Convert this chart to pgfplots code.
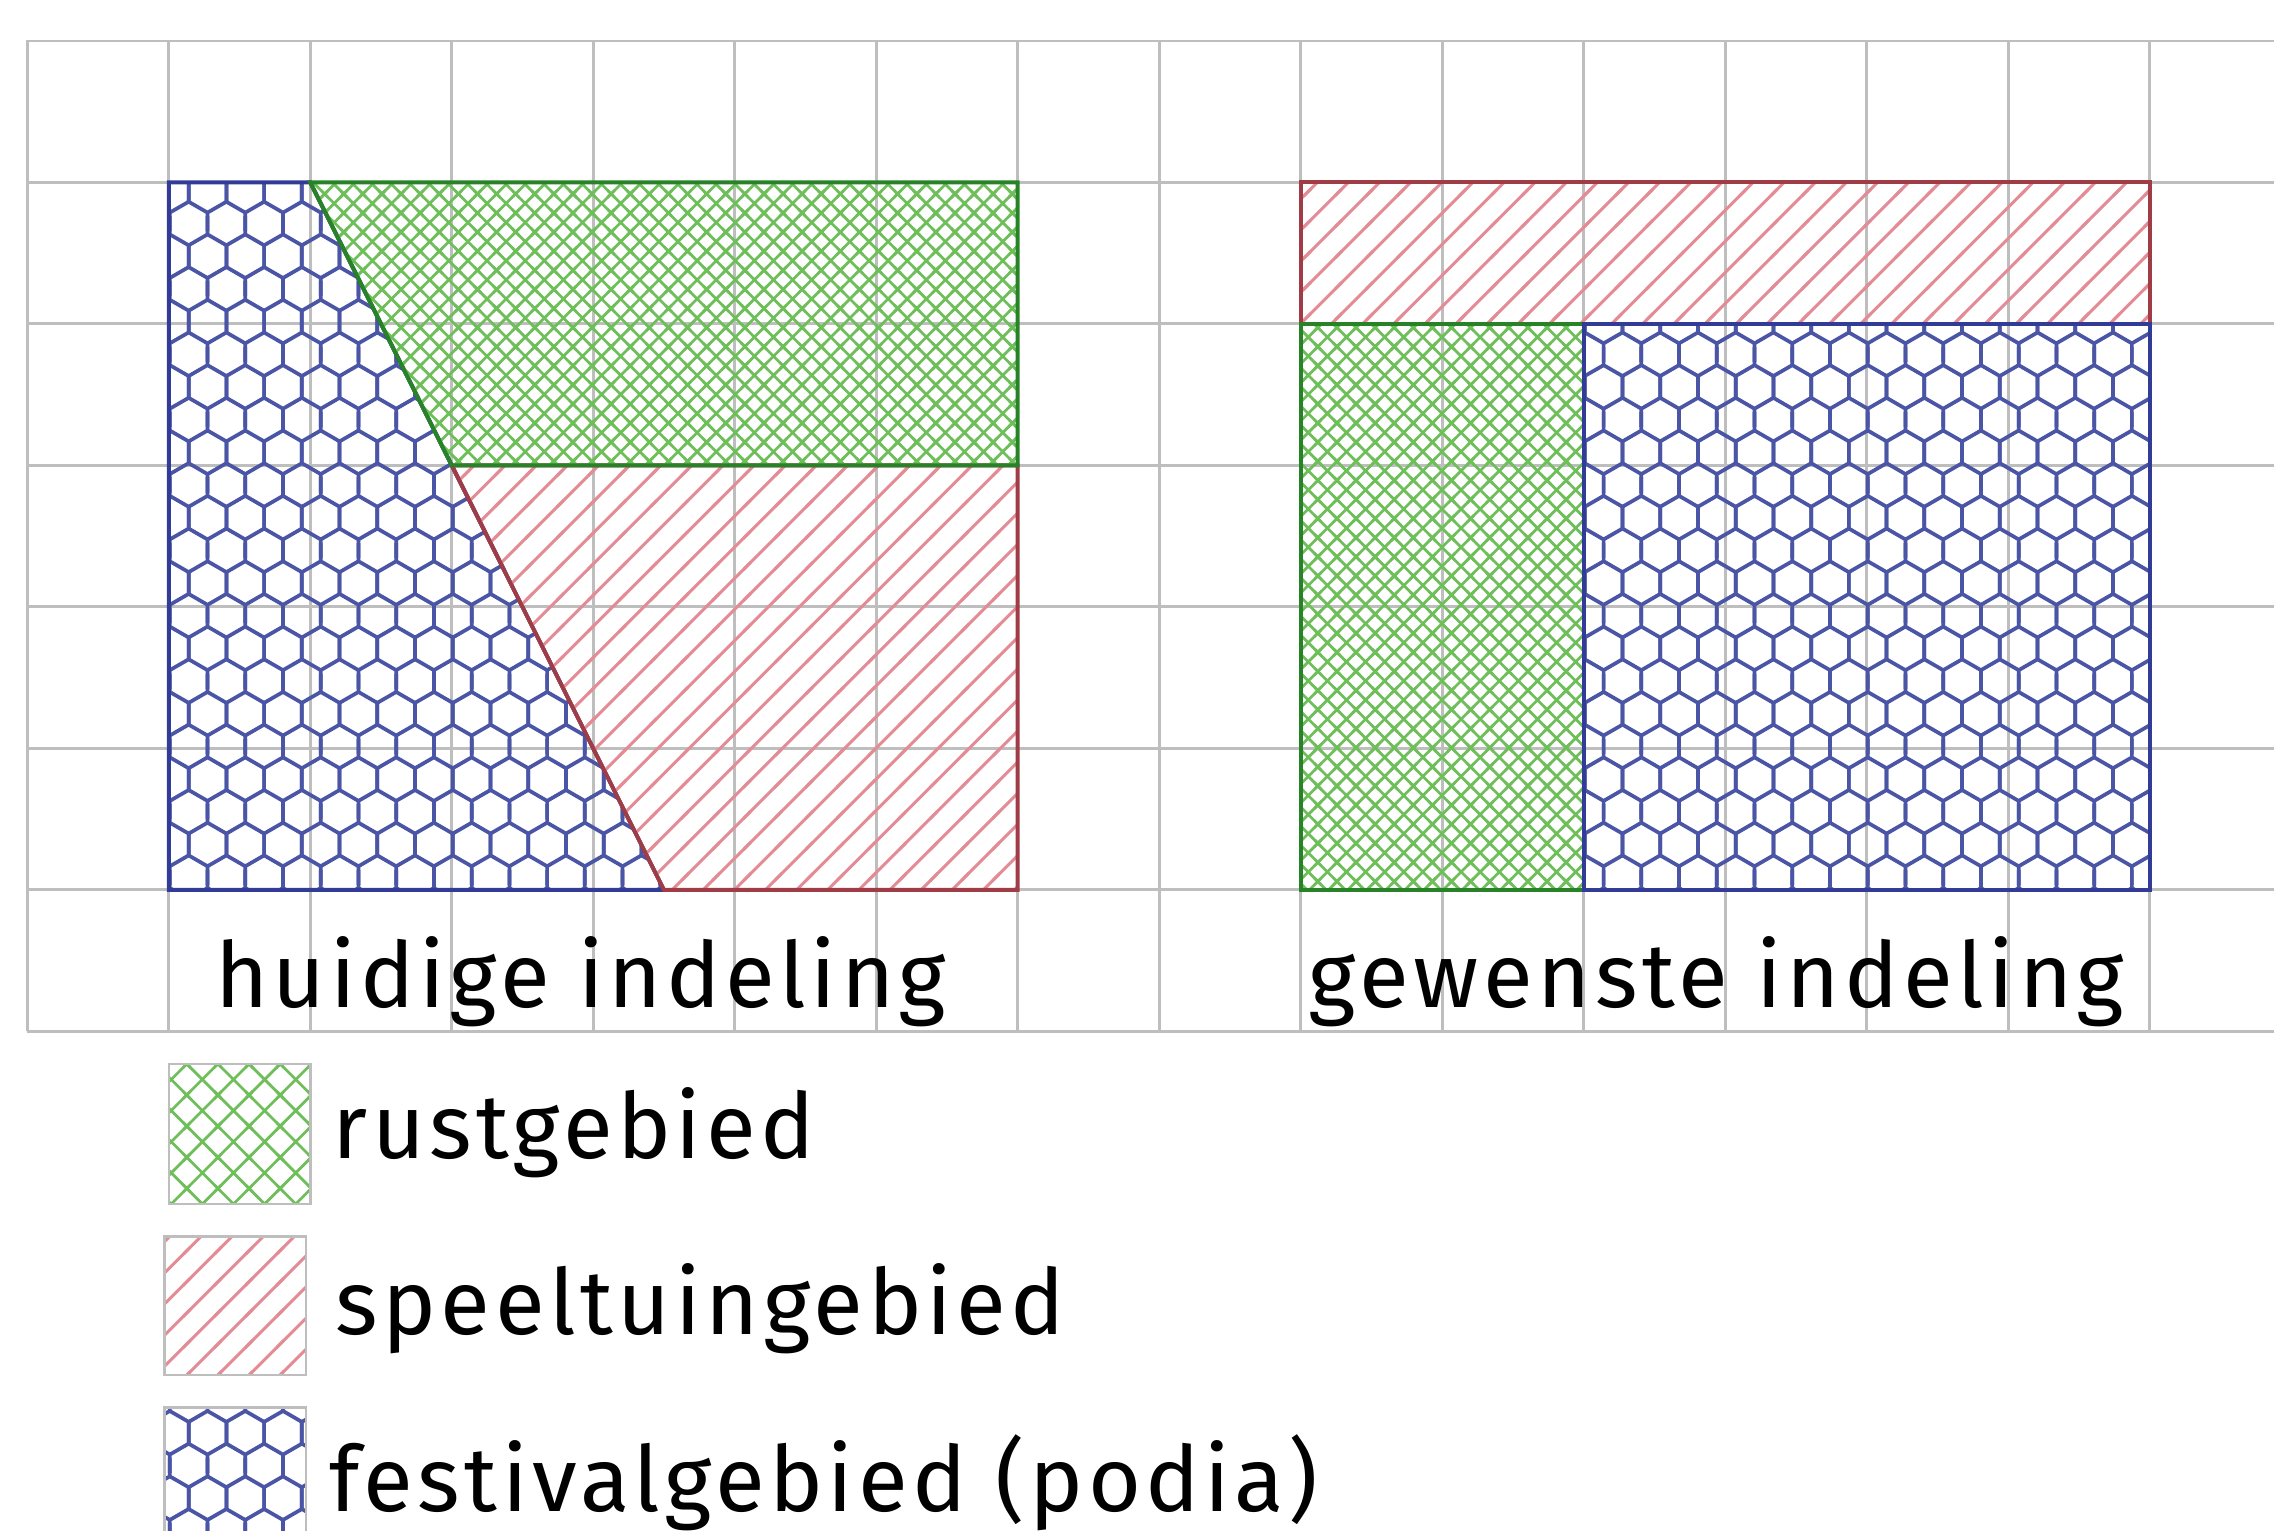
\documentclass[border=0pt]{standalone}
\usepackage{pgfplots}
\pgfplotsset{compat=1.18}
\usetikzlibrary{patterns}
\usepackage{fontspec}
\setmainfont{Fira Sans}[LetterSpace=5]

\definecolor{hexcol}{RGB}{75,85,165}
\definecolor{grpat}{RGB}{110,190,90}
\definecolor{grline}{RGB}{40,130,40}
\definecolor{rdpat}{RGB}{228,140,150}
\definecolor{rdline}{RGB}{160,60,70}
\definecolor{blline}{RGB}{50,60,150}
\definecolor{gridcol}{RGB}{190,190,190}

% hexagon pattern (pointy top), side 0.154cm
\pgfdeclarepatternformonly{hexa}{\pgfpoint{-0.05cm}{-0.05cm}}{\pgfpoint{0.3167cm}{0.512cm}}{\pgfpoint{0.2667cm}{0.462cm}}{%
  \pgfsetlinewidth{0.75pt}%
  \pgfpathmoveto{\pgfpoint{0cm}{0.154cm}}\pgfpathlineto{\pgfpoint{0.13335cm}{0.077cm}}\pgfpathlineto{\pgfpoint{0.2667cm}{0.154cm}}%
  \pgfpathmoveto{\pgfpoint{0cm}{0.154cm}}\pgfpathlineto{\pgfpoint{0cm}{0.308cm}}%
  \pgfpathmoveto{\pgfpoint{0.2667cm}{0.154cm}}\pgfpathlineto{\pgfpoint{0.2667cm}{0.308cm}}%
  \pgfpathmoveto{\pgfpoint{0cm}{0.308cm}}\pgfpathlineto{\pgfpoint{0.13335cm}{0.385cm}}\pgfpathlineto{\pgfpoint{0.2667cm}{0.308cm}}%
  \pgfpathmoveto{\pgfpoint{0.13335cm}{-0.077cm}}\pgfpathlineto{\pgfpoint{0.13335cm}{0.077cm}}%
  \pgfpathmoveto{\pgfpoint{0.13335cm}{0.385cm}}\pgfpathlineto{\pgfpoint{0.13335cm}{0.539cm}}%
  \pgfusepath{stroke}}

% fine crosshatch for the regions
\pgfdeclarepatternformonly{xhatch}{\pgfpoint{-0.03cm}{-0.03cm}}{\pgfpoint{0.165cm}{0.165cm}}{\pgfpoint{0.135cm}{0.135cm}}{%
  \pgfsetlinewidth{0.55pt}%
  \pgfpathmoveto{\pgfpoint{-0.03cm}{-0.03cm}}\pgfpathlineto{\pgfpoint{0.165cm}{0.165cm}}%
  \pgfpathmoveto{\pgfpoint{-0.03cm}{0.165cm}}\pgfpathlineto{\pgfpoint{0.165cm}{-0.03cm}}%
  \pgfusepath{stroke}}

% coarser crosshatch for the legend
\pgfdeclarepatternformonly{xhatchL}{\pgfpoint{-0.03cm}{-0.03cm}}{\pgfpoint{0.25cm}{0.25cm}}{\pgfpoint{0.22cm}{0.22cm}}{%
  \pgfsetlinewidth{0.55pt}%
  \pgfpathmoveto{\pgfpoint{-0.03cm}{-0.03cm}}\pgfpathlineto{\pgfpoint{0.25cm}{0.25cm}}%
  \pgfpathmoveto{\pgfpoint{-0.03cm}{0.25cm}}\pgfpathlineto{\pgfpoint{0.25cm}{-0.03cm}}%
  \pgfusepath{stroke}}

% north east lines
\pgfdeclarepatternformonly{nelines}{\pgfpoint{-0.03cm}{-0.03cm}}{\pgfpoint{0.25cm}{0.25cm}}{\pgfpoint{0.22cm}{0.22cm}}{%
  \pgfsetlinewidth{0.6pt}%
  \pgfpathmoveto{\pgfpoint{-0.03cm}{-0.03cm}}\pgfpathlineto{\pgfpoint{0.25cm}{0.25cm}}%
  \pgfusepath{stroke}}

\begin{document}
\begin{tikzpicture}
\begin{axis}[
  name=ax,
  x=1cm, y=1cm,
  scale only axis,
  hide axis,
  xmin=-0.193, xmax=15.88,
  ymin=-3.53, ymax=7.29,
  clip=true,
]
% grid
\addplot[gridcol, line width=0.6pt] coordinates {
 (0,0) (0,7) (1,7) (1,0) (2,0) (2,7) (3,7) (3,0) (4,0) (4,7) (5,7) (5,0)
 (6,0) (6,7) (7,7) (7,0) (8,0) (8,7) (9,7) (9,0) (10,0) (10,7) (11,7) (11,0)
 (12,0) (12,7) (13,7) (13,0) (14,0) (14,7) (15,7) (15,0) (16.5,0)};
\addplot[gridcol, line width=0.6pt] coordinates {
 (0,0) (16.5,0) (16.5,1) (0,1) (0,2) (16.5,2) (16.5,3) (0,3) (0,4) (16.5,4)
 (16.5,5) (0,5) (0,6) (16.5,6) (16.5,7) (0,7)};

% huidige indeling
\addplot[draw=blline, line width=0.8pt, pattern=hexa, pattern color=hexcol]
  coordinates {(1,1) (1,6) (2,6) (4.5,1)} -- cycle;
\addplot[draw=rdline, line width=0.8pt, pattern=nelines, pattern color=rdpat]
  coordinates {(3,4) (7,4) (7,1) (4.5,1)} -- cycle;
\addplot[draw=grline, line width=0.8pt, pattern=xhatch, pattern color=grpat]
  coordinates {(2,6) (7,6) (7,4) (3,4)} -- cycle;

% gewenste indeling
\addplot[draw=rdline, line width=0.8pt, pattern=nelines, pattern color=rdpat]
  coordinates {(9,5) (9,6) (15,6) (15,5)} -- cycle;
\addplot[draw=grline, line width=0.8pt, pattern=xhatch, pattern color=grpat]
  coordinates {(9,1) (9,5) (11,5) (11,1)} -- cycle;
\addplot[draw=blline, line width=0.8pt, pattern=hexa, pattern color=hexcol]
  coordinates {(11,1) (11,5) (15,5) (15,1)} -- cycle;

% legend boxes
\addplot[draw=gridcol, line width=0.5pt, pattern=xhatchL, pattern color=grpat]
  coordinates {(1,-1.22) (1,-0.23) (2,-0.23) (2,-1.22)} -- cycle;
\addplot[draw=gridcol, line width=0.5pt, pattern=nelines, pattern color=rdpat]
  coordinates {(0.97,-2.43) (0.97,-1.45) (1.97,-1.45) (1.97,-2.43)} -- cycle;
\addplot[draw=gridcol, line width=0.5pt, pattern=hexa, pattern color=hexcol]
  coordinates {(0.97,-4) (0.97,-2.66) (1.97,-2.66) (1.97,-4)} -- cycle;

\node[anchor=base west, inner sep=0pt, font=\fontsize{18.3}{22}\selectfont] at (axis cs:1.32,0.17) {huidige indeling};
\node[anchor=base west, inner sep=0pt, font=\fontsize{18.3}{22}\selectfont] at (axis cs:9.05,0.17) {gewenste indeling};
\node[anchor=base west, inner sep=0pt, font=\fontsize{18.3}{22}\selectfont] at (axis cs:2.15,-0.90) {rustgebied};
\node[anchor=base west, inner sep=0pt, font=\fontsize{18.3}{22}\selectfont] at (axis cs:2.17,-2.14) {speeltuingebied};
\node[anchor=base west, inner sep=0pt, font=\fontsize{18.3}{22}\selectfont] at (axis cs:2.13,-3.39) {festivalgebied (podia)};
\end{axis}
\pgfresetboundingbox
\path[use as bounding box] (ax.south west) rectangle (ax.north east);
\end{tikzpicture}
\end{document}
